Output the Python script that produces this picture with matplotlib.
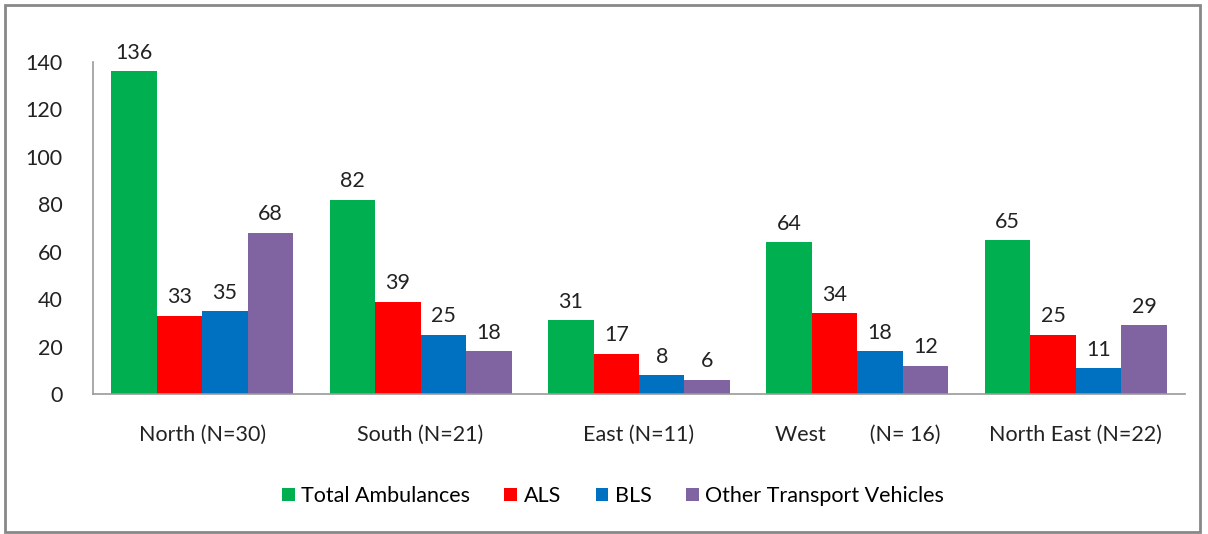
import numpy as np
import matplotlib
matplotlib.use("Agg")
import matplotlib.pyplot as plt
from matplotlib.patches import Rectangle

REGIONS  = ["North (N=30)", "South (N=21)", "East (N=11)",
            "West        (N= 16)", "North East (N=22)"]
SERIES   = ["Total Ambulances", "ALS", "BLS", "Other Transport Vehicles"]
TOTAL    = [136, 82, 31, 64, 65]
ALS      = [33, 39, 17, 34, 25]
BLS      = [35, 25, 8, 18, 11]
OTHER    = [68, 18, 6, 12, 29]
COLORS   = ["#00B050", "#FF0000", "#0070C0", "#8064A2"]

plt.rcParams['font.family'] = ['Lato', 'DejaVu Sans']
FS = 15.5

fig = plt.figure(figsize=(12.08, 5.34), dpi=100)
ax = fig.add_axes([93/1208, 1-394/534, (1185-93)/1208, (394-62)/534])

x = np.arange(len(REGIONS))
w = 0.833 / 4
for i, (vals, col) in enumerate(zip([TOTAL, ALS, BLS, OTHER], COLORS)):
    pos = x - 0.833/2 + w*(i+0.5)
    ax.bar(pos, vals, width=w, color=col, label=SERIES[i])
    for p, v in zip(pos, vals):
        ax.text(p, v + 3.5, str(v), ha="center", va="bottom", fontsize=FS, color="#222")

ax.set_xlim(-0.5, len(REGIONS)-0.5)
ax.set_ylim(0, 140)
ax.set_yticks(range(0, 141, 20))
ax.set_xticks(x)
ax.set_xticklabels(REGIONS, fontsize=FS)
ax.tick_params(axis="y", labelsize=FS, length=0, pad=22, labelcolor="#222")
ax.tick_params(axis="x", length=0, pad=22, labelcolor="#222")
for s in ["top", "right"]:
    ax.spines[s].set_visible(False)
for s in ["left", "bottom"]:
    ax.spines[s].set_color("#999999")
    ax.spines[s].set_linewidth(1.2)

fig.legend(loc="center", bbox_to_anchor=(613/1208, 1-496/534), ncol=4, frameon=False,
           fontsize=FS, handlelength=0.6, handleheight=0.6, handletextpad=0.3,
           columnspacing=1.6)

fig.patches.append(Rectangle((5/1208, 2/534), 1195/1208, 527/534, transform=fig.transFigure,
                             fill=False, edgecolor="#888888", linewidth=2))

fig.savefig("out.png", dpi=100)
